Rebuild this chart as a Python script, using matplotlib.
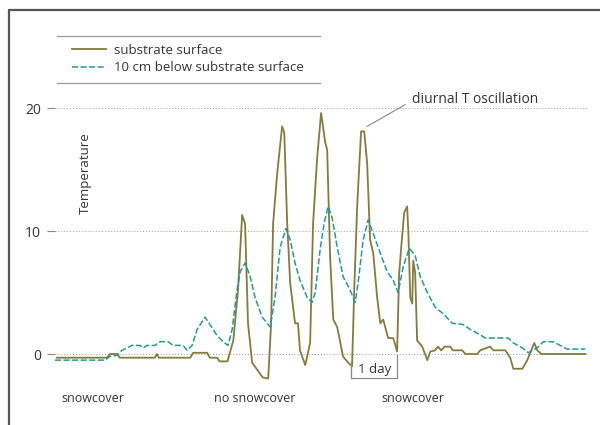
import matplotlib
matplotlib.use("Agg")
import matplotlib.pyplot as plt
from matplotlib.lines import Line2D

plt.rcParams['font.family'] = ['Open Sans', 'DejaVu Sans']

# time in hours, temperature in degrees
t_surface = [1, 26.5, 28, 31.7, 33, 51, 52, 53, 69, 70.5, 77.6, 79, 82.7, 84, 88,
             91, 93.4, 95.5, 97, 98.5, 100.6, 106, 108.8, 110.3, 111.3, 113.4, 115.9,
             117, 118.5, 120, 122.5, 124, 125, 127.7, 130.2, 131.7, 133.8, 135.8,
             137.9, 138.9, 140.4, 142, 144, 147, 149.6, 151.6, 152.7, 154.2, 156.2,
             157.8, 159.3, 160.8, 162.4, 164.4, 166, 167.5, 170, 172.6, 174.6, 175.6,
             176.7, 178.2, 179.7, 180.3, 181.3, 182.3, 182.8, 183.8, 184.8, 187.4,
             190, 191.5, 194, 195.5, 197, 199, 201.7, 203, 207.8, 209.4, 215.5, 217,
             222, 223.7, 229.8, 232.3, 233.9, 238.5, 241, 244.6, 246.1, 248.2, 270.6]
v_surface = [-0.3, -0.3, 0, 0, -0.3, -0.3, 0, -0.3, -0.3, 0.1, 0.1, -0.3, -0.3, -0.6, -0.6,
             1.1, 5.2, 11.3, 10.6, 2.5, -0.7, -1.9, -2.0, 2.5, 10.6, 14.7, 18.5,
             18.0, 10.6, 5.8, 2.5, 2.5, 0.3, -0.9, 0.9, 10.6, 16.0, 19.6,
             17.2, 16.6, 7.9, 2.8, 2.2, -0.2, -0.7, -1.0, 5.2, 12.0, 18.1,
             18.1, 15.5, 9.3, 8.2, 4.6, 2.5, 2.8, 1.3, 1.3, 0.2, 6.5,
             8.7, 11.5, 12.0, 10.0, 4.6, 4.1, 7.6, 6.6, 1.1, 0.6,
             -0.5, 0.2, 0.3, 0.6, 0.3, 0.6, 0.6, 0.3, 0.3, 0, 0, 0.3,
             0.6, 0.3, 0.3, -0.3, -1.2, -1.2, -0.5, 0.9, 0.3, 0, 0]

t_10cm = [0, 25.5, 28, 31.7, 34.2, 36.8, 39.3, 43.4, 45, 47, 51, 53.6, 57.7, 60.3,
          65.4, 67.4, 70, 72.5, 76.6, 82.7, 85.8, 88.3, 90.4, 92.9, 94.5, 97, 99.6,
          102.1, 105.7, 108.3, 109.8, 112.3, 114.9, 117.9, 120, 122.5, 125, 128.7,
          131.2, 132.8, 135.3, 137.4, 139.4, 141.4, 144, 147, 150.6, 153.2, 154.7,
          157.3, 159.8, 162.4, 166, 169.5, 172.6, 175.1, 177.7, 180.8, 183.8, 186.4,
          190, 194, 198, 202.7, 208.3, 211.9, 215.5, 219.6, 231.3, 233.9, 238.5,
          241.5, 246.1, 249.2, 254.3, 258.9, 261.4, 270.6]
v_10cm = [-0.5, -0.5, -0.2, -0.1, 0.3, 0.5, 0.7, 0.7, 0.5, 0.7, 0.7, 1.0, 1.0, 0.7,
          0.7, 0.3, 0.7, 2.0, 3.0, 1.5, 1.0, 0.7, 2.0, 5.2, 6.7, 7.4, 6.3,
          4.6, 3.0, 2.5, 2.2, 4.6, 8.7, 10.2, 9.3, 7.4, 6.0, 4.6,
          4.2, 5.0, 8.5, 10.7, 12.0, 11.1, 8.7, 6.3, 5.2, 4.2, 5.8,
          9.3, 10.9, 9.8, 8.2, 6.7, 6.0, 5.0, 7.1, 8.6, 8.0, 6.3,
          5.0, 3.8, 3.3, 2.5, 2.4, 2.0, 1.7, 1.3, 1.3, 0.9, 0.5,
          0.1, 0.5, 1.0, 1.0, 0.6, 0.4, 0.4]

yticks = [0, 10, 20]
periods = ['snowcover', 'no snowcover', 'snowcover']
period_x = [19.4, 102, 182.8]

olive = '#857b3b'
teal = '#1f9c98'
grey = '#555555'

fig = plt.figure(figsize=(6, 4.25), dpi=100)
ax = fig.add_axes([55 / 600, 1 - 384.75 / 425, 533 / 600, 289 / 425])

ax.plot(t_surface, v_surface, color=olive, lw=1.3, label='substrate surface')
ax.plot(t_10cm, v_10cm, color=teal, lw=1.1, ls=(0, (4, 1.6)),
        label='10 cm below substrate surface')

ax.set_xlim(0, 272)
ax.set_ylim(-2.5, 21)
ax.set_xticks([])
ax.set_yticks(yticks)
ax.set_yticklabels([str(v) for v in yticks], fontsize=10, color='#333333')
ax.tick_params(axis='y', length=6, width=0.8, color='#888888', pad=4)
ax.grid(axis='y', linestyle=(0, (1, 2)), color='#999999', lw=0.7)
for s in ax.spines.values():
    s.set_visible(False)

ax.text(0.056, 0.733, 'Temperature', transform=ax.transAxes, rotation=90,
        ha='center', va='center', fontsize=9.5, color='#333333')

# annotation
ax.annotate('diurnal T oscillation', xy=(159.2, 18.5), xytext=(182, 20.7),
            fontsize=10, color='#333333', va='center', ha='left',
            arrowprops=dict(arrowstyle='-', color='#888888', lw=0.8,
                            relpos=(0, 0.4), shrinkA=3, shrinkB=0))

# 1 day bracket
ax.plot([151.1, 151.1, 174.6, 174.6], [-0.65, -1.95, -1.95, -0.1],
        color='#888888', lw=0.9, clip_on=False)
ax.text(162.9, -1.25, '1 day', ha='center', va='center', fontsize=9.5,
        color='#333333')

for x, s in zip(period_x, periods):
    ax.text(x, -3.6, s, ha='center', va='center', fontsize=9, color='#333333',
            clip_on=False)

# legend with rules
handles, labels = ax.get_legend_handles_labels()
fig.legend(handles, labels, loc='upper left', bbox_to_anchor=(60 / 600, 1 - 32 / 425),
           frameon=False, fontsize=9.5, handlelength=2.6, labelspacing=0.35,
           handletextpad=0.6, labelcolor='#333333')
fig.add_artist(Line2D([57 / 600, 320 / 600], [1 - 36 / 425] * 2, color='#999999', lw=0.9))
fig.add_artist(Line2D([57 / 600, 320 / 600], [1 - 83 / 425] * 2, color='#999999', lw=0.9))

# frame
fig.add_artist(Line2D([9 / 600, 9 / 600, 600 / 600], [0, 1 - 10 / 425, 1 - 10 / 425],
                      color=grey, lw=1.6))

fig.savefig('out.png', dpi=100)
